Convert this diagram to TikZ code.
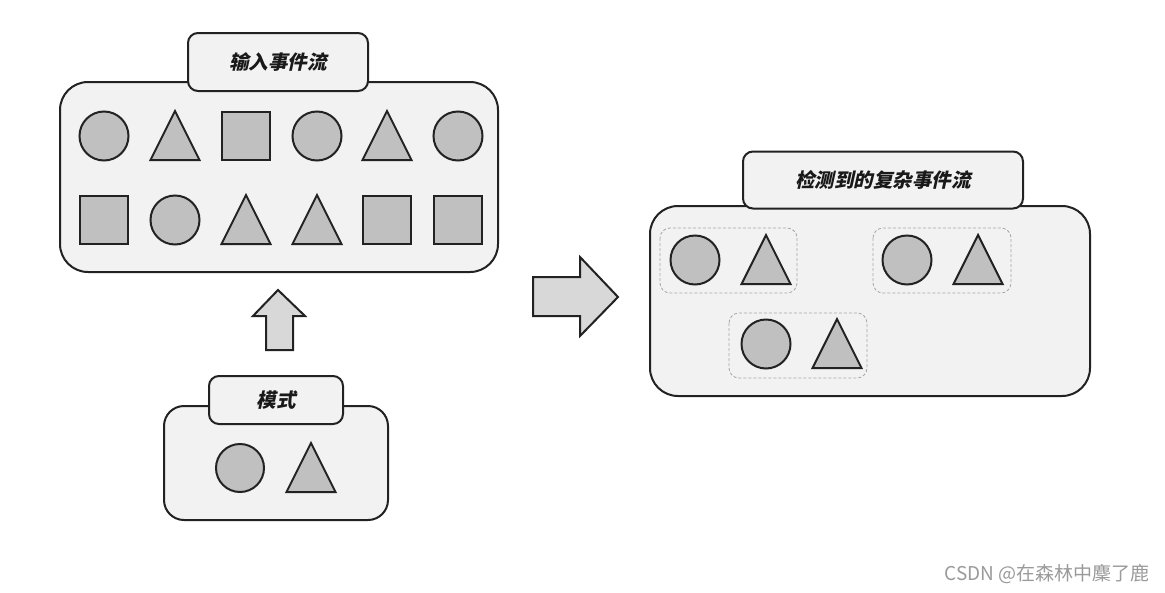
\documentclass[tikz,border=0pt]{standalone}
\usepackage{fontspec}
\newfontfamily\cjkb{Noto Sans CJK SC Black}[FakeSlant=0.22]
\newfontfamily\cjkr{Noto Sans CJK SC}
\usetikzlibrary{calc}
\definecolor{boxfill}{HTML}{F2F2F2}
\definecolor{shapefill}{HTML}{C0C0C0}
\definecolor{arrowfill}{HTML}{D8D8D8}
\definecolor{ink}{HTML}{222222}
\definecolor{wm}{HTML}{9A9A9A}
\tikzset{
  bigbox/.style={draw=ink, line width=2pt, fill=boxfill, rounded corners=28pt},
  titlebox/.style={draw=ink, line width=2pt, fill=boxfill, rounded corners=10pt, inner sep=0pt, text=black!90, font=\cjkb\fontsize{19.5}{19.5}\selectfont},
  grpbox/.style={draw=gray!70, line width=0.8pt, dashed, dash pattern=on 3pt off 2pt, rounded corners=10pt},
  evshape/.style={draw=ink, line width=2pt, fill=shapefill, inner sep=0pt},
  evcircle/.style={evshape, circle, minimum size=49pt},
  evsquare/.style={evshape, rectangle, minimum size=48pt},
  blockarrow/.style={draw=ink, line width=2pt, fill=arrowfill, line join=miter},
}
\newcommand\evtri[3]{%
  \coordinate (#1) at (#2,#3);
  \draw[evshape, line join=miter] ($(#1)+(-24.5,24)$) -- ($(#1)+(0,-25)$) -- ($(#1)+(24.5,24)$) -- cycle;}
\begin{document}
\begin{tikzpicture}[x=1pt,y=-1pt]
\useasboundingbox (0,0) rectangle (1165,592);
\fill[white] (0,0) rectangle (1165,592);

% ---------- input event stream ----------
\draw[bigbox] (60,82) rectangle (498,272);
\node[titlebox, minimum width=180pt, minimum height=58pt] (tin) at (278,62) {输入事件流};
\node[evcircle] (i1) at (104,136) {};
\evtri{i2}{175}{136}
\node[evsquare] (i3) at (246,136) {};
\node[evcircle] (i4) at (317,136) {};
\evtri{i5}{387}{136}
\node[evcircle] (i6) at (458,136) {};
\node[evsquare] (i7) at (104,220) {};
\node[evcircle] (i8) at (175,220) {};
\evtri{i9}{246}{220}
\evtri{i10}{317}{220}
\node[evsquare] (i11) at (387,220) {};
\node[evsquare] (i12) at (458,220) {};

% ---------- up arrow ----------
\draw[blockarrow] (266,350) -- (266,316) -- (253,316) -- (278,290) -- (305,316) -- (293,316) -- (293,350) -- cycle;

% ---------- pattern ----------
\draw[bigbox, rounded corners=20pt] (164,406) rectangle (388,520);
\node[titlebox, minimum width=134pt, minimum height=48pt] (tpat) at (276,400) {模式};
\node[evcircle, minimum size=48pt] (p1) at (240,468) {};
\evtri{p2}{311}{468}

% ---------- right arrow ----------
\draw[blockarrow] (533,277) -- (580,277) -- (580,257) -- (618,297) -- (580,336) -- (580,316) -- (533,316) -- cycle;

% ---------- detected complex events ----------
\draw[bigbox] (650,206) rectangle (1090,396);
\node[titlebox, minimum width=280pt, minimum height=57pt] (tout) at (883,180) {检测到的复杂事件流};
\draw[grpbox] (660,228) rectangle (797,293);
\node[evcircle] (o1) at (695,260) {};
\evtri{o2}{766}{260}
\draw[grpbox] (873,228) rectangle (1011,293);
\node[evcircle] (o3) at (907,260) {};
\evtri{o4}{978}{260}
\draw[grpbox] (729,313) rectangle (867,378);
\node[evcircle] (o5) at (766,344) {};
\evtri{o6}{837}{344}

% ---------- watermark ----------
\node[text=wm, font=\cjkr\fontsize{19}{19}\selectfont, inner sep=0pt] (wmk) at (1047,574) {CSDN @在森林中麇了鹿};
\end{tikzpicture}
\end{document}
